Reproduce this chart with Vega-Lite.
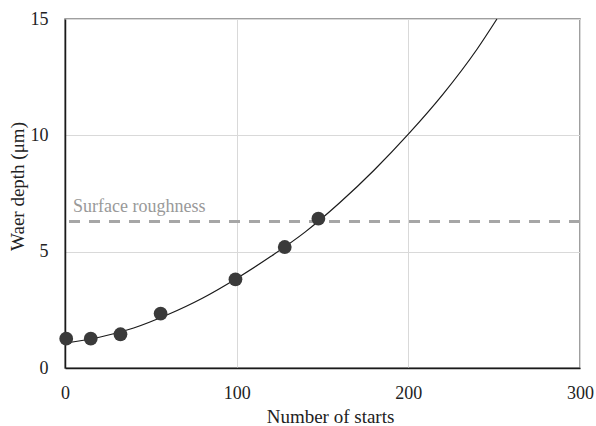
{
  "$schema": "https://vega.github.io/schema/vega-lite/v6.json",
  "autosize": "none",
  "width": 515,
  "height": 349,
  "padding": {"left": 65, "top": 19, "right": 16, "bottom": 58},
  "background": "white",
  "config": {
    "font": "Liberation Serif",
    "view": {"stroke": "#808080", "strokeWidth": 1.5},
    "axis": {
      "labelFont": "Liberation Serif",
      "titleFont": "Liberation Serif",
      "labelFontSize": 18,
      "titleFontSize": 19,
      "labelColor": "#222222",
      "titleColor": "#222222",
      "titleFontWeight": "normal",
      "labelFlush": false,
      "labelOverlap": false,
      "gridColor": "#d9d9d9",
      "gridWidth": 1,
      "domainColor": "#1a1a1a",
      "domainWidth": 1.5,
      "ticks": false
    }
  },
  "layer": [
    {
      "data": {"values": [
        {"starts": 0, "depth": 1.07},
        {"starts": 20, "depth": 1.32},
        {"starts": 40, "depth": 1.72},
        {"starts": 60, "depth": 2.3},
        {"starts": 80, "depth": 3.0},
        {"starts": 100, "depth": 3.85},
        {"starts": 120, "depth": 4.8},
        {"starts": 140, "depth": 5.85},
        {"starts": 160, "depth": 7.1},
        {"starts": 180, "depth": 8.5},
        {"starts": 200, "depth": 10.05},
        {"starts": 220, "depth": 11.75},
        {"starts": 240, "depth": 13.7},
        {"starts": 251.6, "depth": 15}
      ]},
      "mark": {"type": "line", "color": "#1a1a1a", "strokeWidth": 1.2, "interpolate": "monotone"},
      "encoding": {
        "x": {"field": "starts", "type": "quantitative", "scale": {"domain": [0, 300], "nice": false},
          "axis": {"values": [0, 100, 200, 300], "title": "Number  of starts", "labelPadding": 16, "titleBaseline": "alphabetic", "titleX": 265, "titleY": 54, "grid": true}},
        "y": {"field": "depth", "type": "quantitative", "scale": {"domain": [0, 15], "nice": false},
          "axis": {"values": [0, 5, 10, 15], "title": "Waer depth (μm)", "labelPadding": 17, "titleBaseline": "middle", "titleX": -48, "titleY": 167, "grid": true}}
      }
    },
    {
      "data": {"values": [{"level": 6.3, "label": "Surface roughness"}]},
      "layer": [
        {
          "mark": {"type": "rule", "color": "#a6a6a6", "strokeWidth": 3, "strokeDash": [11, 9]},
          "encoding": {"y": {"field": "level", "type": "quantitative"}}
        },
        {
          "mark": {"type": "text", "align": "left", "baseline": "alphabetic", "dx": 8, "dy": -9, "fontSize": 18, "color": "#999999", "font": "Liberation Serif"},
          "encoding": {
            "x": {"datum": 0, "type": "quantitative"},
            "y": {"field": "level", "type": "quantitative"},
            "text": {"field": "label"}
          }
        }
      ]
    },
    {
      "data": {"values": [
        {"starts": 0.7, "depth": 1.26},
        {"starts": 15, "depth": 1.26},
        {"starts": 32.3, "depth": 1.45},
        {"starts": 55.7, "depth": 2.34},
        {"starts": 99.3, "depth": 3.81},
        {"starts": 128, "depth": 5.2},
        {"starts": 147.6, "depth": 6.42}
      ]},
      "mark": {"type": "circle", "color": "#3a3a3a", "opacity": 1, "size": 190},
      "encoding": {
        "x": {"field": "starts", "type": "quantitative"},
        "y": {"field": "depth", "type": "quantitative"}
      }
    }
  ]
}
